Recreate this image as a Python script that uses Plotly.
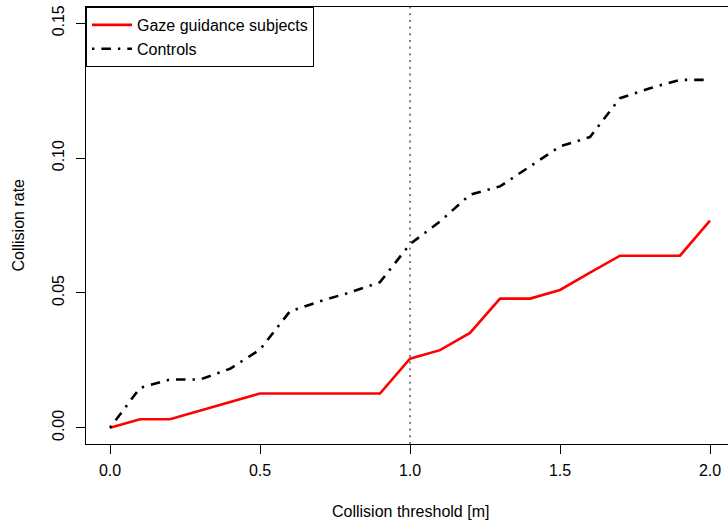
import plotly.graph_objects as go

thresholds = [0.0, 0.1, 0.2, 0.3, 0.4, 0.5, 0.6, 0.7, 0.8, 0.9, 1.0,
              1.1, 1.2, 1.3, 1.4, 1.5, 1.6, 1.7, 1.8, 1.9, 2.0]
gaze_rate = [0.0, 0.0032, 0.0032, 0.0064, 0.0096, 0.0127, 0.0127, 0.0127, 0.0127, 0.0127, 0.0256,
             0.0288, 0.0352, 0.0479, 0.0479, 0.0511, 0.0575, 0.0638, 0.0638, 0.0638, 0.0768]
control_rate = [0.0, 0.0148, 0.0179, 0.0179, 0.0219, 0.0290, 0.0432, 0.0469, 0.0502, 0.0540, 0.0681,
                0.0765, 0.0864, 0.0895, 0.0969, 0.1043, 0.1078, 0.1222, 0.1259, 0.1290, 0.1290]
series_names = ["Gaze guidance subjects", "Controls"]
x_ticks = [0.0, 0.5, 1.0, 1.5, 2.0]
x_ticklabels = ["0.0", "0.5", "1.0", "1.5", "2.0"]
y_ticks = [0.00, 0.05, 0.10, 0.15]
y_ticklabels = ["0.00", "0.05", "0.10", "0.15"]
threshold_marker = 1.0

FONT = "Liberation Sans, Arial, Helvetica, sans-serif"

fig = go.Figure()
fig.add_trace(go.Scatter(x=thresholds, y=gaze_rate, mode="lines", name=series_names[0],
                         line=dict(color="#ff0000", width=2.6)))
fig.add_trace(go.Scatter(x=thresholds, y=control_rate, mode="lines", name=series_names[1],
                         line=dict(color="black", width=2.6, dash="2.4px,7px,9.5px,7px")))

fig.add_shape(type="line", xref="x", yref="paper", x0=threshold_marker, x1=threshold_marker,
              y0=0, y1=1, line=dict(color="black", width=1, dash="2px,4.7px"))

fig.add_annotation(text="Collision threshold [m]", xref="x", x=1.0, yref="paper", y=0,
                   yanchor="middle", yshift=-67, showarrow=False,
                   font=dict(family=FONT, size=16, color="black"))
fig.add_annotation(text="Collision rate", xref="paper", x=0, xanchor="center", xshift=-68,
                   yref="y", y=0.075, textangle=-90, showarrow=False,
                   font=dict(family=FONT, size=16, color="black"))

fig.update_layout(
    width=728, height=525,
    margin=dict(l=86, r=0, t=7, b=81),
    paper_bgcolor="white", plot_bgcolor="white",
    font=dict(family=FONT, size=16, color="black"),
    showlegend=True,
    legend=dict(x=0, y=1, xanchor="left", yanchor="top", bgcolor="white",
                bordercolor="black", borderwidth=1, font=dict(family=FONT, size=16),
                tracegroupgap=0, itemwidth=40),
)
fig.update_xaxes(range=[-0.08, 2.06], tickvals=x_ticks, ticktext=x_ticklabels,
                 showgrid=False, zeroline=False, showline=True, linecolor="black", linewidth=1,
                 mirror=True, ticks="outside", ticklen=9, tickcolor="black", tickwidth=1,
                 ticklabelstandoff=3, tickfont=dict(family=FONT, size=16))
fig.update_yaxes(range=[-0.006, 0.156], tickvals=y_ticks, ticktext=y_ticklabels,
                 showgrid=False, zeroline=False, showline=True, linecolor="black", linewidth=1,
                 ticks="outside", ticklen=9, tickcolor="black", tickwidth=1, tickangle=-90,
                 ticklabelstandoff=6, tickfont=dict(family=FONT, size=16))

fig.write_html("out.html")
